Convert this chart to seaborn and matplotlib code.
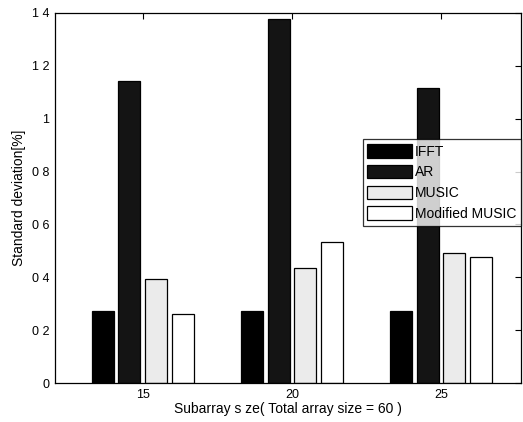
import pandas as pd
import matplotlib.pyplot as plt
import seaborn as sns

sns.set_theme(style="white")
plt.rcParams['font.family'] = ['Liberation Sans', 'DejaVu Sans']
plt.rcParams.update({"text.color": "black", "axes.labelcolor": "black",
                     "xtick.color": "black", "ytick.color": "black"})

# data
sizes = [15, 20, 25]
methods = ["IFFT", "AR", "MUSIC", "Modified MUSIC"]
ifft = [0.274, 0.274, 0.274]
ar = [1.144, 1.377, 1.116]
music = [0.393, 0.434, 0.493]
modified_music = [0.260, 0.533, 0.476]
ytick_labels = ["0", "0 2", "0 4", "0 6", "0 8", "1", "1 2", "1 4"]

palette = {"IFFT": "black", "AR": "#141414",
           "MUSIC": "#ebebeb", "Modified MUSIC": "white"}

rows = []
for name, vals in zip(methods, [ifft, ar, music, modified_music]):
    for s, v in zip(sizes, vals):
        rows.append({"size": s, "method": name, "std": v})
df = pd.DataFrame(rows)

fig = plt.figure(figsize=(5.23, 4.22), dpi=100)
ax = fig.add_axes([0.105, 0.0924, 0.891, 0.877])

sns.barplot(data=df, x="size", y="std", hue="method", hue_order=methods,
            palette=palette, native_scale=True, width=0.72, gap=0.18,
            edgecolor="black", linewidth=0.9, saturation=1, ax=ax)

ax.set_xlim(12.05, 27.68)
ax.set_ylim(0, 1.4)
ax.set_xticks(sizes)
ax.set_xticklabels([str(s) for s in sizes])
ax.set_yticks([0, 0.2, 0.4, 0.6, 0.8, 1.0, 1.2, 1.4])
ax.set_yticklabels(ytick_labels)
ax.tick_params(direction="in", top=True, right=True, length=4,
               width=0.8, color="black", labelsize=9, pad=4)
for sp in ax.spines.values():
    sp.set_color("black")
    sp.set_linewidth(0.9)

ax.set_xlabel("Subarray s ze( Total array size = 60 )", fontsize=10, labelpad=1)
ax.set_ylabel("Standard deviation[%]", fontsize=10, labelpad=4)

leg = ax.legend(loc="upper right", bbox_to_anchor=(1.0, 0.658),
                fontsize=10, frameon=True, fancybox=False,
                handlelength=3.2, handleheight=1.1, handletextpad=0.2,
                labelspacing=0.45, borderpad=0.35, borderaxespad=0)
leg.get_frame().set_edgecolor("black")
leg.get_frame().set_linewidth(0.9)

plt.savefig("out.png", dpi=100)
plt.close()
